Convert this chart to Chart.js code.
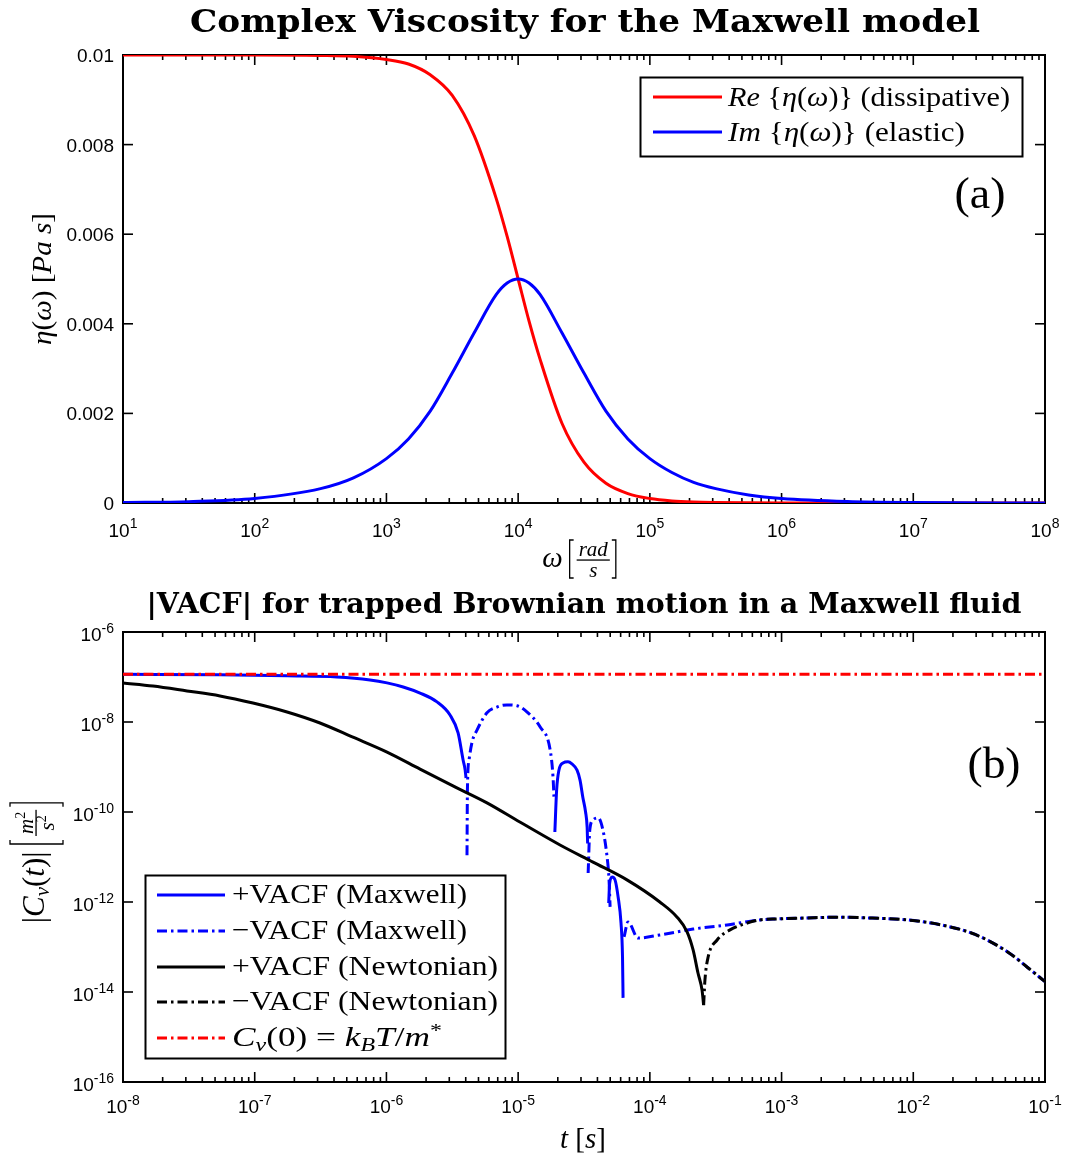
<!DOCTYPE html>
<html>
<head>
<meta charset="utf-8">
<script src="https://cdn.jsdelivr.net/npm/chart.js@4.4.1/dist/chart.umd.min.js"></script>
<style>
  html, body { margin: 0; padding: 0; background: #fff; }
  canvas { display: block; }
</style>
</head>
<body>
<canvas id="viscosity" width="1067" height="580"></canvas>
<canvas id="vacf" width="1067" height="577"></canvas>
<script>
// ---- panel (a): complex viscosity ----
const omega = [10, 31.6, 100, 316, 562, 1000, 1470, 2150, 3160, 4640, 6810, 8250, 10000, 12100, 14700, 21500, 31600, 46400, 68100, 100000, 147000, 215000, 316000, 562000, 1e6, 3.16e6, 1e7, 1e8];
const etaRe = [0.0100, 0.0100, 0.0100, 0.00999, 0.00997, 0.0099, 0.0098, 0.00956, 0.0091, 0.0082, 0.0068, 0.00595, 0.0050, 0.00406, 0.0032, 0.00178, 0.00091, 0.00044, 0.00021, 0.0001, 0.000046, 0.000021, 0.00001, 0.000003, 0.000001, 0.0000001, 0, 0];
const etaIm = [0.00001, 0.00003, 0.0001, 0.00032, 0.00056, 0.00099, 0.00143, 0.00205, 0.0029, 0.0038, 0.00465, 0.00491, 0.0050, 0.00491, 0.00465, 0.0038, 0.0029, 0.00205, 0.00143, 0.00099, 0.00068, 0.00046, 0.00032, 0.00018, 0.0001, 0.000032, 0.00001, 0.000001];

const etaTicks = [0, 0.002, 0.004, 0.006, 0.008, 0.01];
const etaTickLabels = ['0', '0.002', '0.004', '0.006', '0.008', '0.01'];
const omegaExps = [1, 2, 3, 4, 5, 6, 7, 8];

// ---- panel (b): |VACF|, segments split where the sign flips ----
const tMaxPos = [
  [1e-8, 5.45e-8, 1.76e-7, 4.2e-7, 7.5e-7, 1.01e-6, 1.34e-6, 1.8e-6, 2.42e-6, 3.04e-6, 3.5e-6, 3.82e-6, 3.96e-6, 4.02e-6],
  [1.9e-5, 1.96e-5, 2.04e-5, 2.19e-5, 2.39e-5, 2.56e-5, 2.8e-5, 2.95e-5, 3.1e-5, 3.25e-5, 3.34e-5, 3.37e-5],
  [4.87e-5, 4.95e-5, 5.17e-5, 5.44e-5, 5.74e-5, 6.04e-5, 6.2e-5, 6.26e-5]
];
const cMaxPos = [
  [1.15e-7, 1.12e-7, 1.06e-7, 1.0e-7, 8.6e-8, 7.4e-8, 6.0e-8, 4.4e-8, 2.8e-8, 1.43e-8, 5.7e-9, 1.43e-9, 8.6e-10, 5.7e-10],
  [3.6e-11, 3.1e-10, 8.5e-10, 1.23e-9, 1.3e-9, 1.17e-9, 8.5e-10, 5.1e-10, 2.1e-10, 1.0e-10, 4.6e-11, 2.0e-11],
  [9.5e-13, 2.6e-12, 3.6e-12, 3.1e-12, 1.3e-12, 3.4e-13, 6e-14, 7.4e-15]
];
const tMaxNeg = [
  [4.09e-6, 4.12e-6, 4.24e-6, 4.47e-6, 4.87e-6, 5.8e-6, 6.9e-6, 8.2e-6, 9.8e-6, 1.17e-5, 1.47e-5, 1.75e-5, 1.84e-5, 1.87e-5],
  [3.4e-5, 3.5e-5, 3.7e-5, 4.05e-5, 4.4e-5, 4.7e-5, 4.9e-5, 4.99e-5],
  [6.37e-5, 6.83e-5, 8.13e-5, 1.19e-4, 2.13e-4, 3.86e-4, 6.87e-4, 9.25e-4, 1.48e-3, 2.69e-3, 4.87e-3, 8.97e-3, 1.63e-2, 2.95e-2, 5.34e-2, 7.3e-2, 1e-1]
];
const cMaxNeg = [
  [1.1e-11, 3.1e-10, 1.44e-9, 3.6e-9, 6.6e-9, 1.6e-8, 2.15e-8, 2.4e-8, 2.3e-8, 1.66e-8, 7.7e-9, 2.4e-9, 6e-10, 2.2e-10],
  [4.4e-12, 4e-11, 6.6e-11, 7.4e-11, 4e-11, 1.2e-11, 3.1e-12, 7.8e-13],
  [1.67e-13, 3.6e-13, 1.58e-13, 1.85e-13, 2.5e-13, 3.1e-13, 4.0e-13, 4.2e-13, 4.4e-13, 4.6e-13, 4.4e-13, 4.0e-13, 3.1e-13, 1.9e-13, 7.4e-14, 3.6e-14, 1.7e-14]
];
const tNewPos = [1e-8, 1.69e-8, 3.06e-8, 5.45e-8, 9.7e-8, 1.76e-7, 3.13e-7, 5.57e-7, 1.01e-6, 1.8e-6, 3.2e-6, 5.8e-6, 1.03e-5, 2.08e-5, 3.7e-5, 6.7e-5, 1.19e-4, 1.61e-4, 1.92e-4, 2.13e-4, 2.32e-4, 2.49e-4, 2.56e-4];
const cNewPos = [7.4e-8, 6.3e-8, 4.9e-8, 3.8e-8, 2.64e-8, 1.67e-8, 9.5e-9, 4.6e-9, 2.15e-9, 9.0e-10, 3.8e-10, 1.6e-10, 6.0e-11, 1.85e-11, 7.7e-12, 3.1e-12, 1.0e-12, 4.6e-13, 2.15e-13, 8.6e-14, 2.64e-14, 1.1e-14, 5.1e-15];
const tNewNeg = [2.56e-4, 2.62e-4, 2.77e-4, 3.24e-4, 4.06e-4, 5.47e-4, 6.87e-4, 9.25e-4, 1.48e-3, 2.69e-3, 4.87e-3, 8.97e-3, 1.63e-2, 2.95e-2, 5.34e-2, 7.3e-2, 1e-1];
const cNewNeg = [5.1e-15, 1.85e-14, 6.0e-14, 1.43e-13, 2.4e-13, 3.4e-13, 4.0e-13, 4.2e-13, 4.4e-13, 4.6e-13, 4.4e-13, 4.0e-13, 3.1e-13, 1.9e-13, 7.4e-14, 3.6e-14, 1.7e-14];
const tC0 = [1e-8, 1e-1];
const cC0 = [1.15e-7, 1.15e-7];

const tExps = [-8, -7, -6, -5, -4, -3, -2, -1];
const cvExps = [-16, -14, -12, -10, -8, -6];

const SERIF = '"Liberation Serif", "Times New Roman", serif';
const SANS = '"Liberation Sans", Arial, sans-serif';
const TITLE = '"DejaVu Serif", serif';
const it = s => `italic ${s}px ${SERIF}`;
const rm = s => `${s}px ${SERIF}`;
const DASHDOT = [10, 4, 2.5, 4];

function pts(t, c) {
  return t.map((v, i) => ({ x: v, y: c[i] }));
}
// join segments, a null y breaks the line
function segs(ts, cs) {
  let out = [];
  ts.forEach((t, k) => {
    if (k > 0) out.push({ x: t[0], y: null });
    out = out.concat(pts(t, cs[k]));
  });
  return out;
}

// --- little math-text layout helpers ---
function itemW(ctx, p) {
  if (p.frac) return Math.max(runW(ctx, p.frac.num), runW(ctx, p.frac.den)) + 4;
  if (p.br) return p.gap || 8;
  ctx.font = p.f;
  return ctx.measureText(p.t).width;
}
function runW(ctx, parts) {
  return parts.reduce((s, p) => s + itemW(ctx, p), 0);
}
function drawMath(ctx, parts, x, y, align, targetW) {
  const w = runW(ctx, parts);
  const k = targetW ? targetW / w : 1;
  ctx.save();
  let x0 = align === 'center' ? x - w * k / 2 : align === 'right' ? x - w * k : x;
  ctx.translate(x0, y);
  ctx.scale(k, 1);
  let cx = 0;
  parts.forEach(p => {
    const iw = itemW(ctx, p);
    if (p.frac) {
      ctx.fillRect(cx, -p.frac.axis - 0.6, iw, 1.3);
      drawMath(ctx, p.frac.num, cx + iw / 2, -p.frac.axis - p.frac.up, 'center');
      drawMath(ctx, p.frac.den, cx + iw / 2, -p.frac.axis + p.frac.down, 'center');
    } else if (p.br) {
      const s = p.br === '[' ? 1 : -1;
      const bx = p.br === '[' ? cx + 2 : cx + iw - 2;
      ctx.lineWidth = 1.3;
      ctx.beginPath();
      ctx.moveTo(bx + 4 * s, -p.top);
      ctx.lineTo(bx, -p.top);
      ctx.lineTo(bx, p.bot);
      ctx.lineTo(bx + 4 * s, p.bot);
      ctx.stroke();
    } else {
      ctx.font = p.f;
      ctx.fillText(p.t, cx, p.dy || 0);
    }
    cx += iw;
  });
  ctx.restore();
}

function seg(ctx, x1, y1, x2, y2) {
  ctx.beginPath();
  ctx.moveTo(x1, y1);
  ctx.lineTo(x2, y2);
  ctx.stroke();
}

// inward ticks on all four sides plus the box
function drawBox(chart, xMajor, xMinor, yMajor) {
  const { ctx, chartArea: a } = chart;
  const xs = chart.scales.x, ys = chart.scales.y;
  ctx.save();
  ctx.strokeStyle = '#000';
  ctx.lineWidth = 1.6;
  xMajor.forEach(v => {
    const p = xs.getPixelForValue(v);
    seg(ctx, p, a.bottom, p, a.bottom - 10);
    seg(ctx, p, a.top, p, a.top + 10);
  });
  xMinor.forEach(v => {
    const p = xs.getPixelForValue(v);
    seg(ctx, p, a.bottom, p, a.bottom - 5);
    seg(ctx, p, a.top, p, a.top + 5);
  });
  yMajor.forEach(v => {
    const p = ys.getPixelForValue(v);
    seg(ctx, a.left, p, a.left + 10, p);
    seg(ctx, a.right, p, a.right - 10, p);
  });
  ctx.lineWidth = 2;
  ctx.strokeRect(a.left, a.top, a.right - a.left, a.bottom - a.top);
  ctx.restore();
}

function minorLog(exps) {
  const out = [];
  for (let i = 0; i < exps.length - 1; i++) {
    for (let m = 2; m <= 9; m++) out.push(m * Math.pow(10, exps[i]));
  }
  return out;
}

function powLabelX(ctx, scale, e, axisY, baseDy, expDy) {
  const x = scale.getPixelForValue(Math.pow(10, e));
  const es = String(e);
  ctx.font = `19px ${SANS}`;
  const wb = ctx.measureText('10').width;
  ctx.font = `14px ${SANS}`;
  const we = ctx.measureText(es).width;
  const x0 = x - (wb + we) / 2;
  ctx.font = `19px ${SANS}`;
  ctx.fillText('10', x0, axisY + baseDy);
  ctx.font = `14px ${SANS}`;
  ctx.fillText(es, x0 + wb, axisY + expDy);
}

function legendLine(ctx, x1, x2, y, color, dash) {
  ctx.save();
  ctx.strokeStyle = color;
  ctx.lineWidth = 3;
  ctx.setLineDash(dash || []);
  seg(ctx, x1, y, x2, y);
  ctx.restore();
}

const commonScale = {
  ticks: { display: false },
  grid: { display: false },
  border: { display: false }
};

// ---------------- panel (a) ----------------
const decorA = {
  id: 'decorA',
  beforeDatasetsDraw(chart) {
    drawBox(chart, omegaExps.map(e => Math.pow(10, e)), minorLog(omegaExps), etaTicks);
  },
  afterDraw(chart) {
    const { ctx, chartArea: a } = chart;
    const xs = chart.scales.x, ys = chart.scales.y;
    ctx.save();
    ctx.fillStyle = '#000';
    ctx.strokeStyle = '#000';
    ctx.textBaseline = 'alphabetic';

    ctx.font = `19px ${SANS}`;
    ctx.textAlign = 'right';
    etaTicks.forEach((v, i) => {
      ctx.fillText(etaTickLabels[i], a.left - 9, ys.getPixelForValue(v) + 7);
    });
    ctx.textAlign = 'left';
    omegaExps.forEach(e => powLabelX(ctx, xs, e, a.bottom, 34, 25));

    // title
    drawMath(ctx, [{ t: 'Complex Viscosity for the Maxwell model', f: `bold 32px ${TITLE}` }], 585, 32, 'center', 790);

    // y label
    ctx.save();
    ctx.translate(51, 279);
    ctx.rotate(-Math.PI / 2);
    drawMath(ctx, [
      { t: 'η', f: it(28) }, { t: '(', f: rm(28) }, { t: 'ω', f: it(28) }, { t: ')', f: rm(28) },
      { t: ' [', f: rm(28) }, { t: 'Pa', f: it(28) }, { t: ' s', f: it(28) }, { t: ']', f: rm(28) }
    ], 0, 0, 'center', 132);
    ctx.restore();

    // x label
    drawMath(ctx, [
      { t: 'ω', f: it(29) }, { t: ' ', f: rm(20) }, { br: '[', top: 27, bot: 11, gap: 9 },
      { frac: { num: [{ t: 'rad', f: it(21) }], den: [{ t: 's', f: it(21) }], axis: 7, up: 4, down: 17 } },
      { br: ']', top: 27, bot: 11, gap: 8 }
    ], 580, 567, 'center');

    // legend
    ctx.lineWidth = 2;
    ctx.strokeRect(640.5, 77.5, 382, 79);
    legendLine(ctx, 653, 722, 97, '#ff0000');
    legendLine(ctx, 653, 722, 132, '#0000ff');
    drawMath(ctx, [
      { t: 'Re', f: it(27) }, { t: ' {', f: rm(27) }, { t: 'η', f: it(27) }, { t: '(', f: rm(27) },
      { t: 'ω', f: it(27) }, { t: ')}', f: rm(27) }, { t: ' (dissipative)', f: rm(27) }
    ], 728, 106, 'left', 282);
    drawMath(ctx, [
      { t: 'Im', f: it(27) }, { t: ' {', f: rm(27) }, { t: 'η', f: it(27) }, { t: '(', f: rm(27) },
      { t: 'ω', f: it(27) }, { t: ')}', f: rm(27) }, { t: ' (elastic)', f: rm(27) }
    ], 728, 141, 'left', 237);

    drawMath(ctx, [{ t: '(a)', f: rm(44) }], 980, 208, 'center', 51);
    ctx.restore();
  }
};

new Chart(document.getElementById('viscosity'), {
  type: 'line',
  data: {
    datasets: [
      { label: 'Im', data: pts(omega, etaIm), borderColor: '#0000ff', borderWidth: 3 },
      { label: 'Re', data: pts(omega, etaRe), borderColor: '#ff0000', borderWidth: 3 }
    ]
  },
  options: {
    responsive: false,
    animation: false,
    layout: { padding: { left: 0, right: 22, top: 55, bottom: 0 } },
    elements: { point: { radius: 0 }, line: { cubicInterpolationMode: 'monotone', fill: false } },
    plugins: { legend: { display: false }, tooltip: { enabled: false }, title: { display: false } },
    scales: {
      x: { ...commonScale, type: 'logarithmic', min: 10, max: 1e8, afterFit: s => { s.height = 77; } },
      y: { ...commonScale, type: 'linear', min: 0, max: 0.01, afterFit: s => { s.width = 123; } }
    }
  },
  plugins: [decorA]
});

// ---------------- panel (b) ----------------
const decorB = {
  id: 'decorB',
  beforeDatasetsDraw(chart) {
    drawBox(chart, tExps.map(e => Math.pow(10, e)), minorLog(tExps), cvExps.map(e => Math.pow(10, e)));
  },
  afterDraw(chart) {
    const { ctx, chartArea: a } = chart;
    const xs = chart.scales.x, ys = chart.scales.y;
    ctx.save();
    ctx.fillStyle = '#000';
    ctx.strokeStyle = '#000';

    // y tick labels 10^e
    cvExps.forEach(e => {
      const y = ys.getPixelForValue(Math.pow(10, e));
      const es = String(e);
      ctx.font = `14px ${SANS}`;
      const we = ctx.measureText(es).width;
      ctx.font = `19px ${SANS}`;
      const wb = ctx.measureText('10').width;
      const xr = a.left - 9;
      ctx.fillText('10', xr - we - wb, y + 9);
      ctx.font = `14px ${SANS}`;
      ctx.fillText(es, xr - we, y + 1);
    });
    tExps.forEach(e => powLabelX(ctx, xs, e, a.bottom, 31, 23));

    // title
    drawMath(ctx, [{ t: '|VACF| for trapped Brownian motion in a Maxwell fluid', f: `bold 27px ${TITLE}` }], 584, 33, 'center', 875);

    // y label
    ctx.save();
    ctx.translate(44, 282);
    ctx.rotate(-Math.PI / 2);
    drawMath(ctx, [
      { t: '|', f: rm(31) }, { t: 'C', f: it(31) }, { t: 'v', f: it(21), dy: 5 }, { t: '(', f: rm(31) },
      { t: 't', f: it(31) }, { t: ')', f: rm(31) }, { t: '|', f: rm(31) }, { t: ' ', f: rm(22) },
      { br: '[', top: 34, bot: 19, gap: 10 },
      { frac: { num: [{ t: 'm', f: it(21) }, { t: '2', f: rm(14), dy: -8 }], den: [{ t: 's', f: it(21) }, { t: '2', f: rm(14), dy: -8 }], axis: 8, up: 3, down: 18 } },
      { br: ']', top: 34, bot: 19, gap: 9 }
    ], 0, 0, 'center');
    ctx.restore();

    // x label
    drawMath(ctx, [
      { t: 't', f: it(29) }, { t: ' [', f: rm(29) }, { t: 's', f: it(29) }, { t: ']', f: rm(29) }
    ], 583, 568, 'center');

    // legend
    ctx.lineWidth = 2;
    ctx.strokeRect(145.5, 295.5, 360, 183);
    const rows = [
      { y: 315, c: '#0000ff', d: null, txt: [{ t: '+VACF (Maxwell)', f: rm(28) }], w: 235 },
      { y: 351, c: '#0000ff', d: DASHDOT, txt: [{ t: '−VACF (Maxwell)', f: rm(28) }], w: 235 },
      { y: 387, c: '#000000', d: null, txt: [{ t: '+VACF (Newtonian)', f: rm(28) }], w: 266 },
      { y: 422, c: '#000000', d: DASHDOT, txt: [{ t: '−VACF (Newtonian)', f: rm(28) }], w: 266 },
      { y: 458, c: '#ff0000', d: DASHDOT, txt: [
        { t: 'C', f: it(28) }, { t: 'v', f: it(19), dy: 5 }, { t: '(0) = ', f: rm(28) }, { t: 'k', f: it(28) },
        { t: 'B', f: it(19), dy: 5 }, { t: 'T', f: it(28) }, { t: '/', f: rm(28) }, { t: 'm', f: it(28) },
        { t: '*', f: rm(19), dy: -9 }
      ], w: 210 }
    ];
    rows.forEach(r => {
      legendLine(ctx, 157, 225, r.y, r.c, r.d);
      drawMath(ctx, r.txt, 232, r.y + 8, 'left', r.w);
    });

    drawMath(ctx, [{ t: '(b)', f: rm(44) }], 994, 198, 'center', 53);
    ctx.restore();
  }
};

new Chart(document.getElementById('vacf'), {
  type: 'line',
  data: {
    datasets: [
      { label: 'C_v(0)', data: pts(tC0, cC0), borderColor: '#ff0000', borderWidth: 3, borderDash: DASHDOT },
      { label: '-VACF (Newtonian)', data: pts(tNewNeg, cNewNeg), borderColor: '#000000', borderWidth: 3, borderDash: DASHDOT },
      { label: '+VACF (Newtonian)', data: pts(tNewPos, cNewPos), borderColor: '#000000', borderWidth: 3 },
      { label: '-VACF (Maxwell)', data: segs(tMaxNeg, cMaxNeg), borderColor: '#0000ff', borderWidth: 3, borderDash: DASHDOT },
      { label: '+VACF (Maxwell)', data: segs(tMaxPos, cMaxPos), borderColor: '#0000ff', borderWidth: 3 }
    ]
  },
  options: {
    responsive: false,
    animation: false,
    spanGaps: false,
    layout: { padding: { left: 0, right: 22, top: 52, bottom: 0 } },
    elements: { point: { radius: 0 }, line: { cubicInterpolationMode: 'monotone', fill: false } },
    plugins: { legend: { display: false }, tooltip: { enabled: false }, title: { display: false } },
    scales: {
      x: { ...commonScale, type: 'logarithmic', min: 1e-8, max: 1e-1, afterFit: s => { s.height = 75; } },
      y: { ...commonScale, type: 'logarithmic', min: 1e-16, max: 1e-6, afterFit: s => { s.width = 123; } }
    }
  },
  plugins: [decorB]
});
</script>
</body>
</html>
